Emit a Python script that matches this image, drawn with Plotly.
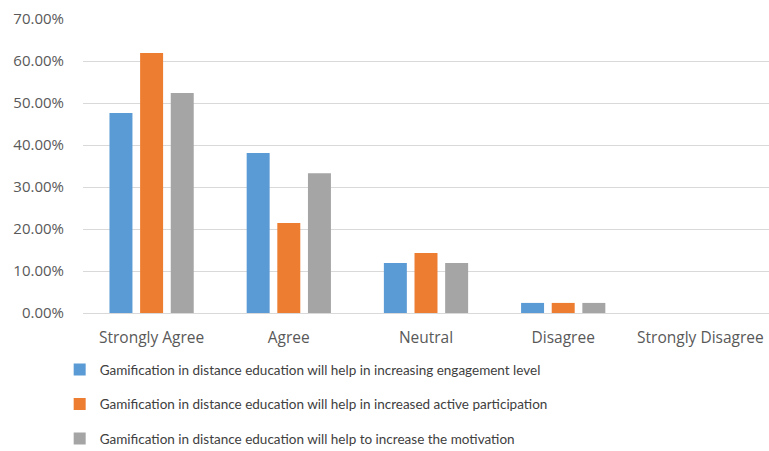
import plotly.graph_objects as go

categories = ["Strongly Agree", "Agree", "Neutral", "Disagree", "Strongly Disagree"]
engagement = [0.476, 0.381, 0.119, 0.024, 0.0]
participation = [0.619, 0.214, 0.143, 0.024, 0.0]
motivation = [0.524, 0.333, 0.119, 0.024, 0.0]
series_names = [
    "Gamification in distance education will help in increasing engagement level",
    "Gamification in distance education will help in increased active participation",
    "Gamification in distance education will help to increase the motivation",
]
colors = ["#5b9bd5", "#ed7d31", "#a5a5a5"]
y_ticks = [0, 0.1, 0.2, 0.3, 0.4, 0.5, 0.6, 0.7]

fig = go.Figure()
for i, (name, vals) in enumerate(zip(series_names, [engagement, participation, motivation])):
    fig.add_trace(go.Bar(x=categories, y=vals, name=name, marker_color=colors[i],
                         marker_line_width=0, legendgroup=f"g{i}"))

fig.update_layout(
    width=769, height=451,
    margin=dict(l=83, r=0, t=19, b=138, autoexpand=False),
    paper_bgcolor="white", plot_bgcolor="white",
    barmode="group", bargap=0.33, bargroupgap=0.25,
    font=dict(family="Open Sans, Liberation Sans, sans-serif", color="#404040", size=14),
    showlegend=True,
    legend=dict(orientation="v", x=-0.034, xanchor="left", y=-0.14, yanchor="top",
                tracegroupgap=14, font=dict(family="Lato, Open Sans, sans-serif", size=13.5, color="#404040"),
                itemwidth=30),
    xaxis=dict(showgrid=False, showline=True, linecolor="#d9d9d9", linewidth=1,
               ticks="", ticklabelstandoff=10,
               tickfont=dict(size=15.5, color="#595959")),
    yaxis=dict(range=[0, 0.7], tickvals=y_ticks, tickformat=".2%",
               showgrid=True, gridcolor="#d9d9d9", gridwidth=1, zeroline=False,
               showline=False, ticks="", ticklabelstandoff=18,
               tickfont=dict(size=15, color="#595959")),
)
fig.write_html("out.html")
